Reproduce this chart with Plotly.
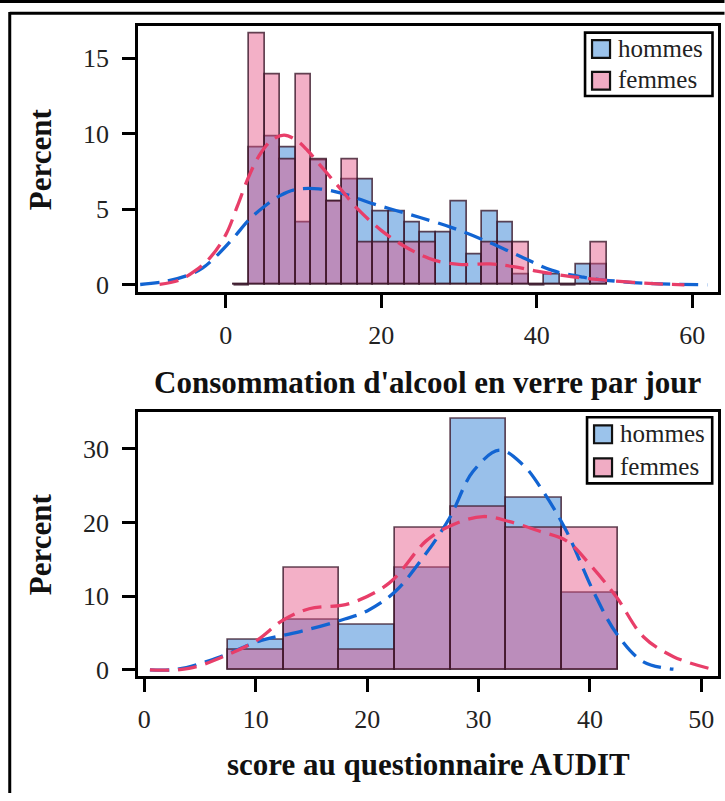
import plotly.graph_objects as go

# ---------------- data: top chart (alcohol consumption, bins of width 2) -------------
conso_centers = [2, 4, 6, 8, 10, 12, 14, 16, 18, 20, 22, 24, 26, 28, 30, 32, 34, 36, 38, 40, 42, 44, 46, 48]
conso_hommes = [0, 9.07, 9.8, 9.07, 4.1, 8.2, 5.5, 6.95, 6.95, 4.87, 4.87, 4.1, 3.45, 3.45, 5.53, 2.03,
                4.87, 4.1, 0.68, 0, 0.68, 0, 1.37, 1.37]
conso_femmes = [0, 16.6, 13.9, 8.3, 13.9, 8.3, 5.5, 8.3, 2.8, 2.8, 2.8, 2.8, 2.8, 0, 0, 0,
                2.8, 2.8, 2.8, 0, 0, 0, 0, 2.8]
conso_bin_width = 2

# density curves
kde_conso_h_x = [-11, -8, -5, -3, -1, 1, 3, 5, 7, 9, 12, 15, 19, 22, 25, 29, 33, 38, 42, 46, 50, 55, 62]
kde_conso_h_y = [0.02, 0.2, 0.6, 1.1, 2.0, 3.1, 4.3, 5.2, 5.9, 6.3, 6.35, 6.05, 5.35, 4.9, 4.45, 3.8,
                 3.0, 1.85, 0.95, 0.5, 0.25, 0.08, 0.0]
kde_conso_f_x = [-8.5, -6, -4, -2, 0, 1.5, 3, 4.5, 6, 7.5, 9, 10.5, 12, 13.5, 15, 17, 20, 22.5, 25,
                 27, 30, 34, 37, 40, 43, 46, 50, 55, 59]
kde_conso_f_y = [0.03, 0.3, 0.9, 1.8, 3.3, 5.2, 7.2, 8.7, 9.6, 9.9, 9.6, 8.9, 8.0, 7.1, 6.2, 5.0, 3.6,
                 2.7, 2.0, 1.6, 1.35, 1.38, 1.2, 0.9, 0.65, 0.44, 0.25, 0.08, 0.0]

# ---------------- data: bottom chart (AUDIT score, bins of width 5) ------------------
audit_centers = [10, 15, 20, 25, 30, 35, 40]
audit_hommes = [4.1, 6.8, 6.1, 13.9, 34.0, 23.4, 10.4]
audit_femmes = [2.7, 13.9, 2.7, 19.3, 22.1, 19.3, 19.3]
audit_bin_width = 5

kde_audit_h_x = [0.5, 3, 6.5, 10.5, 14, 18, 20, 22.5, 25, 27.4, 29.5, 31.9, 34, 35.8, 37.9, 40.3,
                 42.4, 44.8, 47.5]
kde_audit_h_y = [0.0, 0.1, 1.6, 4.0, 5.2, 6.9, 8.0, 10.6, 15.2, 20.6, 26.9, 29.8, 27.8, 24.2, 18.8,
                 10.7, 4.9, 1.1, 0.1]
kde_audit_f_x = [0.5, 4, 7.7, 10.1, 12.4, 14.8, 18.4, 22, 25.3, 27.4, 30.4, 32.8, 35.5, 37.9, 40,
                 42.4, 44.8, 47.5, 50.7]
kde_audit_f_y = [0.0, 0.2, 2.2, 4.0, 6.7, 8.3, 9.0, 11.8, 17.5, 19.5, 20.8, 20.1, 18.8, 17.5, 14.3,
                 9.85, 4.5, 1.8, 0.2]

series_names = ["hommes", "femmes"]

# ---------------- style ------------------
BLUE_FILL = "rgba(60,135,215,0.52)"
PINK_FILL = "rgba(228,80,130,0.45)"
BLUE_KEY = "rgb(155,195,235)"
PINK_KEY = "rgb(240,172,196)"
BAR_LINE = "rgba(55,20,40,0.78)"
BLUE_LINE = "rgb(18,100,210)"
PINK_LINE = "rgb(232,62,105)"
FONT = "Liberation Serif"
DASH = "19px,9px"

W, H = 725, 801
L, R = 138.3, 718.5


def px_x(p):
    return (p - L) / (R - L)


def px_y(p):
    return 1 - p / H


fig = go.Figure()


def add_panel(centers, width, vals_h, vals_f, kx_h, ky_h, kx_f, ky_f, xa, ya):
    for name, vals, fill in ((series_names[0], vals_h, BLUE_FILL), (series_names[1], vals_f, PINK_FILL)):
        fig.add_trace(go.Bar(x=centers, y=vals, width=width, name=name,
                             marker=dict(color=fill, line=dict(color=BAR_LINE, width=1.7)),
                             xaxis=xa, yaxis=ya, showlegend=False, hoverinfo="skip"))
    # empty bins drawn as a flat line on the baseline
    for c, a, b in zip(centers, vals_h, vals_f):
        if a == 0 and b == 0:
            fig.add_trace(go.Scatter(x=[c - width / 2, c + width / 2], y=[0, 0], mode="lines",
                                     line=dict(color=BAR_LINE, width=1.7), xaxis=xa, yaxis=ya,
                                     showlegend=False, hoverinfo="skip"))
    fig.add_trace(go.Scatter(x=kx_h, y=ky_h, mode="lines", line=dict(color=BLUE_LINE, width=3.3,
                             dash=DASH, shape="spline"), xaxis=xa, yaxis=ya,
                             showlegend=False, hoverinfo="skip"))
    fig.add_trace(go.Scatter(x=kx_f, y=ky_f, mode="lines", line=dict(color=PINK_LINE, width=3.3,
                             dash=DASH, shape="spline"), xaxis=xa, yaxis=ya,
                             showlegend=False, hoverinfo="skip"))


add_panel(conso_centers, conso_bin_width, conso_hommes, conso_femmes,
          kde_conso_h_x, kde_conso_h_y, kde_conso_f_x, kde_conso_f_y, "x", "y")
add_panel(audit_centers, audit_bin_width, audit_hommes, audit_femmes,
          kde_audit_h_x, kde_audit_h_y, kde_audit_f_x, kde_audit_f_y, "x2", "y2")

axis_common = dict(showline=True, linecolor="black", linewidth=2.6, mirror=True, ticks="outside",
                   ticklen=13, tickwidth=2.6, tickcolor="black", showgrid=False, zeroline=False,
                   tickfont=dict(family=FONT, size=26, color="#222"))

fig.update_layout(
    width=W, height=H,
    margin=dict(l=L, r=W - R, t=0, b=0),
    paper_bgcolor="white", plot_bgcolor="white",
    barmode="overlay", bargap=0, showlegend=False,
    xaxis=dict(domain=[0, 1], range=[-11.28, 63.32], tickvals=[0, 20, 40, 60], anchor="y",
               ticklabelstandoff=5, **axis_common),
    yaxis=dict(domain=[px_y(295), px_y(26.7)], range=[-0.48, 17.09], tickvals=[0, 5, 10, 15],
               anchor="x", ticklabelstandoff=8, **axis_common),
    xaxis2=dict(domain=[0, 1], range=[-0.57, 51.5], tickvals=[0, 10, 20, 30, 40, 50], anchor="y2",
                ticklabelstandoff=5, **axis_common),
    yaxis2=dict(domain=[px_y(683.3), px_y(416)], range=[-0.89, 35.0], tickvals=[0, 10, 20, 30],
                anchor="x2", ticklabelstandoff=8, **axis_common),
)

title_font = dict(family=FONT, size=31, color="#111")
annotations = [
    dict(text="<b>Consommation d'alcool en verre par jour</b>", x=0.5, y=px_y(386), xref="paper",
         yref="paper", showarrow=False, xanchor="center", yanchor="middle", font=title_font),
    dict(text="<b>score au questionnaire AUDIT</b>", x=0.5, y=px_y(772), xref="paper",
         yref="paper", showarrow=False, xanchor="center", yanchor="middle", font=title_font),
    dict(text="<b>Percent</b>", x=px_x(41), y=px_y(161), xref="paper", yref="paper",
         showarrow=False, textangle=-90, xanchor="center", yanchor="middle", font=title_font),
    dict(text="<b>Percent</b>", x=px_x(41), y=px_y(550), xref="paper", yref="paper",
         showarrow=False, textangle=-90, xanchor="center", yanchor="middle", font=title_font),
]

# surrounding page frame (table border lines)
frame = dict(color="black", width=3)
shapes = [
    dict(type="line", xref="paper", yref="paper", x0=px_x(0), x1=px_x(W), y0=px_y(1.5), y1=px_y(1.5), line=frame),
    dict(type="line", xref="paper", yref="paper", x0=px_x(231), x1=px_x(231), y0=px_y(0), y1=px_y(3), line=frame),
    dict(type="line", xref="paper", yref="paper", x0=px_x(585), x1=px_x(585), y0=px_y(0), y1=px_y(3), line=frame),
    dict(type="line", xref="paper", yref="paper", x0=px_x(10), x1=px_x(W), y0=px_y(13.5), y1=px_y(13.5), line=frame),
    dict(type="line", xref="paper", yref="paper", x0=px_x(10), x1=px_x(10), y0=px_y(12), y1=px_y(H), line=frame),
]

# legends (one per panel): box, colour keys and labels
legend_font = dict(family=FONT, size=25, color="#222")
for (bx0, by0, bx1, by1) in ((585.5, 33, 713, 97), (587.5, 421.5, 712.7, 488.3)):
    shapes.append(dict(type="rect", xref="paper", yref="paper", x0=px_x(bx0), x1=px_x(bx1),
                       y0=px_y(by1), y1=px_y(by0), line=dict(color="black", width=2.6),
                       fillcolor="white", layer="above"))
    row_h = (by1 - by0) / 2
    for i, (name, key) in enumerate(zip(series_names, (BLUE_KEY, PINK_KEY))):
        cy = by0 + row_h * (i + 0.5) + 0.5
        shapes.append(dict(type="rect", xref="paper", yref="paper", x0=px_x(bx0 + 7), x1=px_x(bx0 + 25),
                           y0=px_y(cy + 9), y1=px_y(cy - 9), line=dict(color="#111", width=2.2),
                           fillcolor=key, layer="above"))
        annotations.append(dict(text=name, x=px_x(bx0 + 31), y=px_y(cy - 1), xref="paper", yref="paper",
                                showarrow=False, xanchor="left", yanchor="middle", font=legend_font))

fig.update_layout(shapes=shapes, annotations=annotations)

fig.write_html("out.html", config={"displayModeBar": False},
               post_script="document.body.style.margin='0px';")
